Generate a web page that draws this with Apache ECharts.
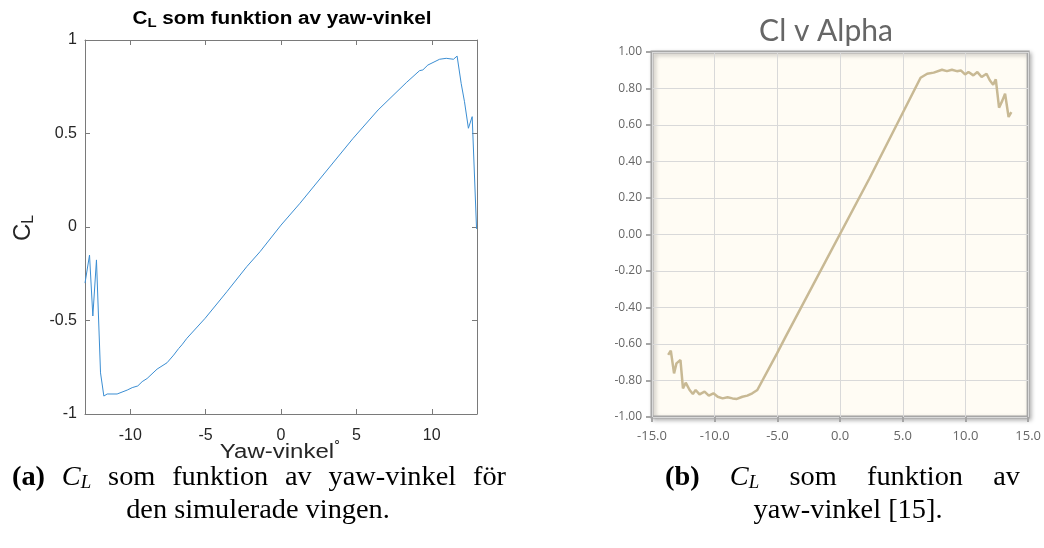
<!DOCTYPE html>
<html>
<head>
<meta charset="utf-8">
<script src="https://cdn.jsdelivr.net/npm/echarts@6/dist/echarts.min.js"></script>
<style>
  html, body { margin: 0; padding: 0; background: #ffffff; }
  #main { width: 1044px; height: 548px; }
</style>
</head>
<body>
<div id="main"></div>
<script>
// (a) simulated wing: lift coefficient vs yaw angle
const simYaw = [-13, -12.7, -12.48, -12.24, -11.97, -11.75, -11.53, -10.87, -10.2, -9.87, -9.5, -9.21, -8.88, -8.22, -7.56, -7.12, -6.79, -6.57, -6.24, -5.03, -3.59, -2.27, -1.39, 0, 1.26, 4.78, 6.44, 8.31, 9.19, 9.41, 9.74, 10.52, 10.96, 11.44, 11.68, 11.95, 12.17, 12.43, 12.68, 12.97];
const simCL  = [-0.30, -0.15, -0.476, -0.176, -0.78, -0.904, -0.893, -0.893, -0.872, -0.859, -0.85, -0.827, -0.81, -0.76, -0.726, -0.685, -0.65, -0.63, -0.595, -0.488, -0.346, -0.212, -0.132, 0.01, 0.127, 0.474, 0.626, 0.772, 0.836, 0.84, 0.866, 0.897, 0.902, 0.897, 0.914, 0.768, 0.67, 0.528, 0.59, -0.01];
const simTicksX = [-10, -5, 0, 5, 10];

// (b) reference data: Cl vs alpha
const refAlpha = [-13.71, -13.5, -13.24, -13.05, -12.73, -12.53, -12.31, -12.0, -11.74, -11.52, -11.21, -10.81, -10.47, -10.1, -9.76, -9.37, -8.97, -8.58, -8.23, -7.79, -7.4, -7.0, -6.6, -5.03, -4.37, 2.34, 6.42, 6.95, 7.47, 8.13, 8.52, 8.92, 9.31, 9.63, 9.97, 10.24, 10.63, 10.95, 11.29, 11.68, 11.94, 12.21, 12.42, 12.68, 12.95, 13.16, 13.44, 13.66];
const refCl    = [-0.66, -0.637, -0.761, -0.706, -0.688, -0.843, -0.812, -0.852, -0.874, -0.852, -0.876, -0.861, -0.883, -0.87, -0.889, -0.898, -0.892, -0.898, -0.901, -0.889, -0.883, -0.87, -0.852, -0.651, -0.564, 0.307, 0.859, 0.881, 0.887, 0.903, 0.895, 0.903, 0.895, 0.899, 0.877, 0.89, 0.872, 0.89, 0.863, 0.881, 0.845, 0.821, 0.85, 0.695, 0.735, 0.772, 0.644, 0.671];

const simPairs = simYaw.map((x, i) => [x, simCL[i]]);
const refPairs = refAlpha.map((x, i) => [x, refCl[i]]);

const matAxisColor = '#7a7a7a';
const matText = '#262626';
const sans = '"Liberation Sans", Arial, sans-serif';
const serif = '"Liberation Serif", "DejaVu Serif", serif';

// ---- caption typesetting (justified first line, centred last line) ----
const capSize = 27, capSub = 18, capScale = 1.05;
const measureCtx = document.createElement('canvas').getContext('2d');
function segWidth(seg) {
  measureCtx.font = `${seg.italic ? 'italic ' : ''}${seg.bold ? 'bold ' : ''}${seg.size}px ${serif}`;
  return measureCtx.measureText(seg.text).width * capScale;
}
function seg(text, opt) { return Object.assign({ text, size: capSize, dy: 0 }, opt || {}); }
function wordWidth(word) { return word.reduce((s, g) => s + segWidth(g), 0); }
function wordElements(word, x0, y) {
  const els = [];
  let x = x0;
  word.forEach(g => {
    els.push({ type: 'text', x: x, y: y + g.dy, scaleX: capScale, style: {
      text: g.text, align: 'left', verticalAlign: 'middle', fill: '#000',
      fontFamily: serif, fontSize: g.size,
      fontStyle: g.italic ? 'italic' : 'normal', fontWeight: g.bold ? 'bold' : 'normal' } });
    x += segWidth(g);
  });
  return els;
}
function justifiedLine(words, left, right, y) {
  const total = words.reduce((s, w) => s + wordWidth(w), 0);
  const gap = (right - left - total) / (words.length - 1);
  let x = left, els = [];
  words.forEach(w => { els = els.concat(wordElements(w, x, y)); x += wordWidth(w) + gap; });
  return els;
}
function centredLine(words, cx, y) {
  const space = segWidth(seg(' '));
  const total = words.reduce((s, w) => s + wordWidth(w), 0) + space * (words.length - 1);
  let x = cx - total / 2, els = [];
  words.forEach(w => { els = els.concat(wordElements(w, x, y)); x += wordWidth(w) + space; });
  return els;
}
const CL = [seg('C', { italic: true }), seg('L', { italic: true, size: capSub, dy: 5 })];
const capA1 = [[seg('(a)', { bold: true })], CL, [seg('som')], [seg('funktion')], [seg('av')], [seg('yaw-vinkel')], [seg('för')]];
const capA2 = [[seg('den')], [seg('simulerade')], [seg('vingen.')]];
const capB1 = [[seg('(b)', { bold: true })], CL, [seg('som')], [seg('funktion')], [seg('av')]];
const capB2 = [[seg('yaw-vinkel')], [seg('[15].')]];

const captionEls = [].concat(
  justifiedLine(capA1, 12, 506, 478),
  centredLine(capA2, 258, 511),
  justifiedLine(capB1, 665, 1020, 478),
  centredLine(capB2, 848, 511)
);

const chart = echarts.init(document.getElementById('main'), null, { renderer: 'canvas' });

const matX = (pos, labels) => ({
  type: 'value', gridIndex: 0, position: pos, min: -13, max: 13,
  axisLine: { show: true, onZero: false, lineStyle: { color: matAxisColor, width: 1 } },
  axisTick: { show: true, inside: true, length: 5, customValues: simTicksX, lineStyle: { color: matAxisColor } },
  axisLabel: { show: labels, customValues: simTicksX, margin: 14, fontSize: 16, color: matText, fontFamily: sans },
  splitLine: { show: false }
});
const matY = (pos, labels) => ({
  type: 'value', gridIndex: 0, position: pos, min: -1, max: 1, interval: 0.5,
  axisLine: { show: true, onZero: false, lineStyle: { color: matAxisColor, width: 1 } },
  axisTick: { show: true, inside: true, length: 5, lineStyle: { color: matAxisColor } },
  axisLabel: { show: labels, margin: 8, fontSize: 16, color: matText, fontFamily: sans },
  splitLine: { show: false }
});
const refFont = '"Liberation Sans Narrow", "Open Sans", sans-serif';

chart.setOption({
  backgroundColor: '#ffffff',
  animation: false,
  grid: [
    { left: 85, top: 40, width: 392, height: 374, show: false },
    { left: 652, top: 52, width: 380, height: 365, show: true,
      backgroundColor: '#fffcf4', borderColor: '#a6a6a6', borderWidth: 3,
      shadowColor: 'rgba(0,0,0,0.25)', shadowBlur: 4, shadowOffsetX: 2, shadowOffsetY: 2 }
  ],
  xAxis: [
    matX('bottom', true),
    matX('top', false),
    {
      type: 'value', gridIndex: 1, position: 'bottom', min: -15, max: 15, interval: 5,
      axisLine: { show: false, onZero: false },
      axisTick: { show: true, length: 5, lineStyle: { color: '#a6a6a6', width: 2 } },
      axisLabel: { margin: 13, fontSize: 13, color: '#666666', fontFamily: refFont,
                   formatter: v => v.toFixed(1) },
      splitLine: { show: true, lineStyle: { color: '#d9d9d9', width: 1 } }
    }
  ],
  yAxis: [
    matY('left', true),
    matY('right', false),
    {
      type: 'value', gridIndex: 1, position: 'left', min: -1, max: 1, interval: 0.2,
      axisLine: { show: false, onZero: false },
      axisTick: { show: true, length: 6, lineStyle: { color: '#a6a6a6', width: 2 } },
      axisLabel: { margin: 10, fontSize: 12, color: '#666666', fontFamily: '"Open Sans", sans-serif',
                   formatter: v => v.toFixed(2) },
      splitLine: { show: true, lineStyle: { color: '#d9d9d9', width: 1 } }
    }
  ],
  series: [
    {
      type: 'line', xAxisIndex: 0, yAxisIndex: 0, data: simPairs,
      showSymbol: false, lineStyle: { color: '#3b8ed3', width: 1 }, clip: true
    },
    {
      type: 'line', xAxisIndex: 2, yAxisIndex: 2, data: refPairs,
      showSymbol: false, lineStyle: { color: '#c8b994', width: 2.5 }, clip: true
    }
  ],
  graphic: [
    // title of panel (a)
    { type: 'text', x: 282, y: 19, scaleX: 1.15, style: {
        text: '{n|C}{s|L}{n| som funktion av yaw-vinkel}', align: 'center', verticalAlign: 'middle',
        rich: {
          n: { fontSize: 18, fontWeight: 'bold', fill: '#000', fontFamily: sans, lineHeight: 22 },
          s: { fontSize: 13, fontWeight: 'bold', fill: '#000', fontFamily: sans, lineHeight: 14, verticalAlign: 'bottom' }
        } } },
    // y-axis name of panel (a)
    { type: 'text', x: 23, y: 228, rotation: Math.PI / 2, style: {
        text: '{n|C}{s|L}', align: 'center', verticalAlign: 'middle',
        rich: {
          n: { fontSize: 24, fill: matText, fontFamily: sans, lineHeight: 28 },
          s: { fontSize: 16, fill: matText, fontFamily: sans, lineHeight: 16, verticalAlign: 'bottom' }
        } } },
    // x-axis name of panel (a)
    { type: 'text', x: 277, y: 452, scaleX: 1.2, style: {
        text: 'Yaw-vinkel', align: 'center', verticalAlign: 'middle',
        fontSize: 20, fill: matText, fontFamily: sans } },
    { type: 'text', x: 337, y: 441, style: {
        text: '∘', align: 'center', verticalAlign: 'middle',
        fontSize: 13, fill: matText, fontFamily: sans } },
    // title of panel (b)
    { type: 'text', x: 826, y: 31, style: {
        text: 'Cl v Alpha', align: 'center', verticalAlign: 'middle',
        fontSize: 30, fill: '#666666', fontFamily: 'Lato, "Open Sans", sans-serif' } }
  ].concat(captionEls)
});
</script>
</body>
</html>
